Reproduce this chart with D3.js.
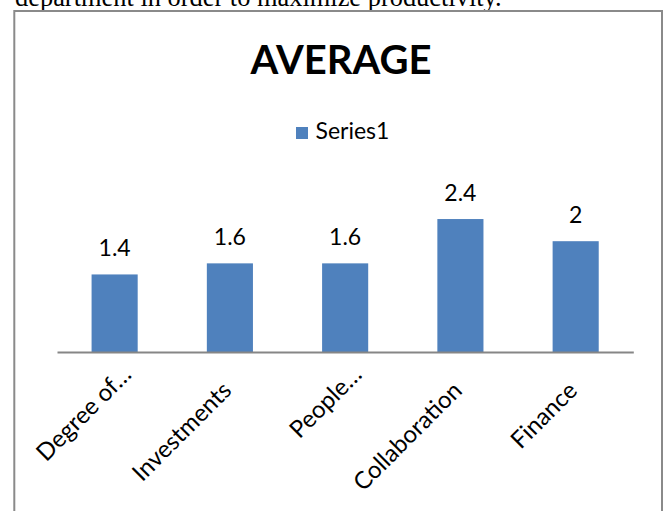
<!DOCTYPE html>
<html><head><meta charset="utf-8">
<script src="https://cdn.jsdelivr.net/npm/d3@7"></script>
<style>
html,body{margin:0;padding:0;background:#fff;}
svg{display:block;}
</style></head>
<body>
<svg id="chart" width="665" height="511"></svg>
<script>
const categories = ["Degree of…", "Investments", "People…", "Collaboration", "Finance"];
const values = [1.4, 1.6, 1.6, 2.4, 2];
const seriesName = "Series1";
const chartTitle = "AVERAGE";
const captionText = "department in order to maximize productivity.";
const yDomain = [0, 3];

const svg = d3.select("#chart");
const barColor = "#4f81bd";
const sans = "Lato, 'Open Sans', sans-serif";

// caption text above the chart frame (cropped at the top, as in the reference)
const cap = svg.append("text")
  .attr("x", 15).attr("y", 5.5)
  .attr("font-family", "'Liberation Serif', 'Times New Roman', serif")
  .attr("font-size", 26)
  .attr("fill", "#000")
  .text(captionText);
{
  const w = cap.node().getComputedTextLength();
  cap.attr("font-size", 26 * 487 / w);
}

// chart frame
svg.append("rect")
  .attr("x", 14.3).attr("y", 11).attr("width", 647.7).attr("height", 520)
  .attr("fill", "none").attr("stroke", "#8a8a8a").attr("stroke-width", 2);

// title
svg.append("text")
  .attr("x", 341).attr("y", 73.5)
  .attr("text-anchor", "middle")
  .attr("font-family", sans).attr("font-weight", "bold")
  .attr("font-size", 40).attr("fill", "#000")
  .text(chartTitle);

// legend
const lg = svg.append("g");
lg.append("rect").attr("x", 296).attr("y", 127).attr("width", 12).attr("height", 12).attr("fill", barColor);
lg.append("text").attr("x", 315.5).attr("y", 139.3)
  .attr("font-family", sans).attr("font-size", 23).attr("fill", "#000")
  .text(seriesName);

// scales
const x = d3.scaleBand().domain(categories).range([57, 633.3]).paddingInner(0.6).paddingOuter(0.3);
const y = d3.scaleLinear().domain(yDomain).range([352, 185.8]);

// bars
svg.append("g").selectAll("rect").data(values).join("rect")
  .attr("x", (d, i) => x(categories[i]))
  .attr("y", d => y(d))
  .attr("width", x.bandwidth())
  .attr("height", d => y(0) - y(d))
  .attr("fill", barColor);

// data labels
svg.append("g").selectAll("text").data(values).join("text")
  .attr("x", (d, i) => x(categories[i]) + x.bandwidth() / 2)
  .attr("y", d => y(d) - 18)
  .attr("text-anchor", "middle")
  .attr("font-family", sans).attr("font-size", 23).attr("fill", "#000")
  .text(d => String(d));

// x axis
const axis = d3.axisBottom(x).tickSize(0).tickSizeOuter(0);
const ag = svg.append("g").attr("transform", `translate(0,${y(0)})`).call(axis);
ag.select(".domain").attr("stroke", "#868686").attr("stroke-width", 2);
ag.selectAll(".tick text")
  .attr("font-family", sans).attr("font-size", 24).attr("fill", "#000")
  .attr("text-anchor", "end")
  .attr("x", 0).attr("y", 0).attr("dy", null)
  .attr("transform", d => {
    const trunc = d.endsWith("…");
    const ox = trunc ? 18 : 3, oy = trunc ? 24 : 40;
    return `translate(${ox},${oy}) rotate(-45)`;
  });
</script>
</body></html>
